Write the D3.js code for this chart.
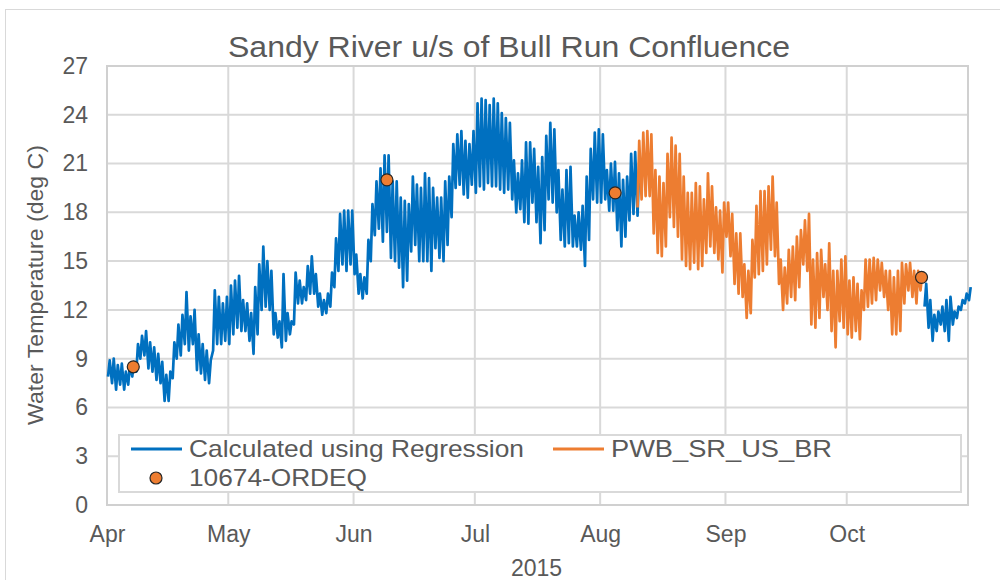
<!doctype html>
<html>
<head>
<meta charset="utf-8">
<script src="https://cdn.jsdelivr.net/npm/d3@7"></script>
<style>
  body { margin: 0; background: #fff; }
  svg text { font-family: "Liberation Sans", Arial, sans-serif; fill: #595959; }
</style>
</head>
<body>
<svg id="chart" width="1000" height="580"></svg>
<script>
// daily min / max water temperature (deg C)
// "Calculated using Regression" - one entry per day from Apr 1 2015
const regHi = [8.9, 9.0, 8.6, 8.7, 8.2, 8.6, 8.8, 9.9, 10.4, 10.7,
  10.0, 9.7, 9.3, 8.8, 8.0, 8.2, 10.0, 11.1, 11.7, 13.1,
  11.6, 12.0, 10.5, 9.9, 9.5, 8.9, 13.2, 12.8, 12.4, 12.8,
  13.5, 13.8, 14.1, 12.6, 12.4, 11.8, 13.4, 14.8, 15.9, 15.0,
  14.4, 11.8, 11.3, 14.2, 11.8, 11.3, 14.3, 13.8, 13.4, 14.7,
  15.3, 14.2, 13.0, 12.6, 13.0, 14.3, 16.4, 17.9, 18.1, 18.1,
  18.1, 15.4, 14.2, 14.0, 16.3, 18.5, 19.9, 20.7, 21.5, 21.5,
  19.9, 19.9, 18.9, 18.7, 18.5, 20.2, 19.7, 19.5, 20.4, 20.1,
  19.5, 18.9, 18.9, 19.9, 20.2, 22.2, 22.8, 23.0, 22.4, 22.2,
  23.0, 24.7, 25.0, 24.9, 24.6, 25.0, 24.7, 24.1, 23.8, 23.5,
  21.2, 20.4, 21.2, 22.3, 22.3, 21.9, 20.8, 21.4, 22.7, 23.5,
  23.1, 20.6, 19.4, 20.6, 20.8, 17.8, 18.0, 18.4, 20.2, 21.9,
  22.9, 23.1, 22.8, 20.6, 21.0, 21.1, 20.4, 20.0, 20.2, 21.6,
  21.7, 21.0];
const regLo = [7.9, 7.5, 7.1, 7.4, 7.1, 7.4, 7.9, 8.2, 9.0, 9.2,
  8.4, 8.2, 7.7, 7.5, 6.4, 6.4, 7.8, 9.0, 9.2, 9.9,
  9.5, 9.9, 8.3, 8.1, 7.7, 7.5, 9.5, 9.9, 9.9, 10.1,
  9.9, 10.5, 10.9, 10.7, 10.7, 10.1, 9.3, 10.5, 12.0, 12.2,
  12.0, 10.5, 10.3, 9.7, 10.1, 10.5, 11.1, 12.4, 12.4, 12.6,
  13.0, 13.0, 12.2, 11.7, 11.8, 12.2, 13.4, 14.4, 14.8, 14.4,
  14.8, 14.2, 13.0, 12.7, 13.0, 15.0, 16.6, 17.0, 16.2, 16.8,
  15.2, 15.0, 14.6, 13.4, 13.8, 15.6, 16.0, 15.0, 15.0, 15.0,
  14.4, 15.8, 15.2, 15.0, 16.0, 17.7, 19.5, 19.7, 19.1, 18.9,
  19.7, 19.2, 19.6, 19.4, 19.8, 19.6, 19.6, 19.4, 19.2, 19.4,
  18.8, 18.0, 18.2, 17.4, 17.3, 18.6, 17.4, 16.1, 16.9, 18.8,
  18.6, 18.0, 16.3, 15.9, 16.1, 15.9, 15.9, 15.7, 14.7, 16.3,
  18.8, 18.6, 18.6, 18.8, 18.1, 18.1, 16.9, 15.9, 16.5, 17.5,
  17.9, 17.8];

// "PWB_SR_US_BR" - from Aug 10 (day 131) to Oct 19
const pwbStartDay = 131;
const pwbHi = [22.4, 22.9, 23.0, 22.8, 20.6, 20.2, 19.8, 21.6, 22.6, 22.1,
  21.6, 20.2, 19.2, 19.2, 19.8, 19.6, 18.8, 20.4, 19.6, 18.3,
  18.1, 18.6, 18.6, 17.9, 16.7, 16.7, 14.8, 14.4, 16.3, 18.4,
  19.3, 19.3, 19.6, 20.2, 18.6, 15.1, 14.6, 15.7, 15.9, 16.5,
  16.9, 17.5, 17.9, 15.1, 15.5, 15.7, 14.8, 16.1, 14.4, 14.4,
  15.1, 15.3, 13.8, 14.0, 13.6, 13.2, 15.1, 15.1, 15.2, 15.1,
  14.9, 14.4, 14.4, 14.0, 14.4, 14.9, 14.8, 14.9, 14.4, 14.4,
  14.2];
const pwbLo = [18.3, 18.8, 19.0, 19.0, 16.7, 15.5, 15.3, 15.9, 17.7, 17.1,
  16.5, 15.1, 14.7, 14.5, 14.9, 14.5, 14.7, 15.5, 15.9, 15.5,
  15.1, 14.3, 16.5, 15.3, 13.6, 13.0, 12.8, 11.5, 11.8, 14.0,
  14.2, 14.4, 14.8, 15.7, 15.3, 13.6, 12.0, 12.4, 12.8, 12.6,
  13.4, 14.8, 14.4, 11.1, 10.9, 11.5, 12.8, 12.0, 10.7, 9.7,
  11.3, 10.9, 10.5, 10.3, 10.7, 10.2, 12.0, 12.2, 12.4, 12.6,
  13.2, 12.8, 12.0, 10.5, 10.5, 10.7, 12.4, 13.2, 12.8, 12.4,
  13.2];

// regression again after the logger record ends - from Oct 20 (day 202)
const tailStartDay = 202;
const tailHi = [13.6, 12.6, 11.7, 11.9, 12.2, 12.6, 12.8, 11.9, 12.2, 12.6, 13.0, 13.4];
const tailLo = [12.2, 10.9, 10.1, 10.7, 11.1, 10.7, 10.1, 11.1, 11.5, 12.0, 12.4, 12.6];

// 10674-ORDEQ grab samples
const deqDates = ["2015-04-07T12:00", "2015-06-09T06:00", "2015-08-04T17:00", "2015-10-19T12:00"];
const deqTemps = [8.5, 20.0, 19.2, 14.0];

const yTicks = [0, 3, 6, 9, 12, 15, 18, 21, 24, 27];

const blue = "#0070c0", orange = "#ed7d31", grid = "#d9d9d9";

const svg = d3.select("#chart");
const margin = {top: 66, left: 107, right: 32, bottom: 75};
const width = 1000 - margin.left - margin.right,
      height = 580 - margin.top - margin.bottom;

const start = new Date(2015, 3, 1);
const x = d3.scaleTime().domain([start, new Date(2015, 9, 31)]).range([0, width]);
const y = d3.scaleLinear().domain([0, 27]).range([height, 0]);

// chart area outline (only top/left fall inside the picture)
svg.append("rect").attr("x", 5.5).attr("y", 9.5).attr("width", 1100).attr("height", 700)
  .attr("fill", "none").attr("stroke", "#d9d9d9");

svg.append("text").attr("x", 509).attr("y", 57).attr("text-anchor", "middle")
  .attr("textLength", 562).attr("lengthAdjust", "spacingAndGlyphs")
  .style("font-size", "29px").text("Sandy River u/s of Bull Run Confluence");

const g = svg.append("g").attr("transform", `translate(${margin.left},${margin.top})`);

// grid
g.selectAll(".hg").data(yTicks).enter().append("line")
  .attr("x1", 0).attr("x2", width).attr("y1", d => y(d)).attr("y2", d => y(d))
  .attr("stroke", grid).attr("stroke-width", 2);
const months = x.ticks(d3.timeMonth.every(1));
g.selectAll(".vg").data(months).enter().append("line")
  .attr("x1", d => x(d)).attr("x2", d => x(d)).attr("y1", 0).attr("y2", height)
  .attr("stroke", grid).attr("stroke-width", 2);
g.append("rect").attr("width", width).attr("height", height)
  .attr("fill", "none").attr("stroke", "#d0d0d0").attr("stroke-width", 2);

// axes (labels only)
const yAxis = g.append("g").call(d3.axisLeft(y).tickValues(yTicks).tickSize(0).tickPadding(19));
const xAxis = g.append("g").attr("transform", `translate(0,${height})`)
  .call(d3.axisBottom(x).ticks(d3.timeMonth.every(1)).tickFormat(d3.timeFormat("%b")).tickSize(0).tickPadding(21));
[yAxis, xAxis].forEach(a => {
  a.select(".domain").remove();
  a.selectAll("text").attr("fill", "#595959").style("font-family", "Liberation Sans, Arial, sans-serif").style("font-size", "23px");
});

svg.append("text").attr("x", margin.left + width / 2 - 1).attr("y", 576).attr("text-anchor", "middle")
  .style("font-size", "23px").text("2015");
svg.append("text").attr("transform", "translate(43,285) rotate(-90)").attr("text-anchor", "middle")
  .attr("textLength", 280).attr("lengthAdjust", "spacingAndGlyphs")
  .style("font-size", "22px").text("Water Temperature (deg C)");

// daily min in the morning, max in the afternoon
function dailyPoints(lo, hi, firstDay) {
  const pts = [];
  lo.forEach((v, i) => {
    const day = d3.timeDay.offset(start, firstDay + i);
    pts.push({t: d3.timeHour.offset(day, 6), v: v});
    pts.push({t: d3.timeHour.offset(day, 16), v: hi[i]});
  });
  return pts;
}
const line = d3.line().x(d => x(d.t)).y(d => y(d.v));

const series = [
  {pts: dailyPoints(regLo, regHi, 0), color: blue},
  {pts: dailyPoints(tailLo, tailHi, tailStartDay), color: blue},
  {pts: dailyPoints(pwbLo, pwbHi, pwbStartDay), color: orange}
];
g.selectAll(".series").data(series).enter().append("path")
  .attr("d", d => line(d.pts)).attr("fill", "none")
  .attr("stroke", d => d.color).attr("stroke-width", 2.7).attr("stroke-linejoin", "round");

const parse = d3.timeParse("%Y-%m-%dT%H:%M");
g.selectAll(".deq").data(deqDates).enter().append("circle")
  .attr("cx", d => x(parse(d))).attr("cy", (d, i) => y(deqTemps[i])).attr("r", 6)
  .attr("fill", orange).attr("stroke", "#262626").attr("stroke-width", 1.2);

// legend
const lg = svg.append("g");
lg.append("rect").attr("x", 119).attr("y", 435).attr("width", 842).attr("height", 57)
  .attr("fill", "#fff").attr("stroke", "#d9d9d9").attr("stroke-width", 2);
const legendItems = [
  {label: "Calculated using Regression", color: blue, type: "line", lx: 131, ly: 449, len: 335},
  {label: "PWB_SR_US_BR", color: orange, type: "line", lx: 553, ly: 449, len: 221},
  {label: "10674-ORDEQ", color: orange, type: "dot", lx: 131, ly: 478, len: 178}
];
legendItems.forEach(it => {
  if (it.type === "line") {
    lg.append("line").attr("x1", it.lx).attr("x2", it.lx + 51).attr("y1", it.ly).attr("y2", it.ly)
      .attr("stroke", it.color).attr("stroke-width", 3);
  } else {
    lg.append("circle").attr("cx", it.lx + 25).attr("cy", it.ly).attr("r", 6)
      .attr("fill", it.color).attr("stroke", "#262626").attr("stroke-width", 1.2);
  }
  lg.append("text").attr("x", it.lx + 58).attr("y", it.ly + 8)
    .attr("textLength", it.len).attr("lengthAdjust", "spacingAndGlyphs")
    .style("font-size", "24px").text(it.label);
});
</script>
</body>
</html>
